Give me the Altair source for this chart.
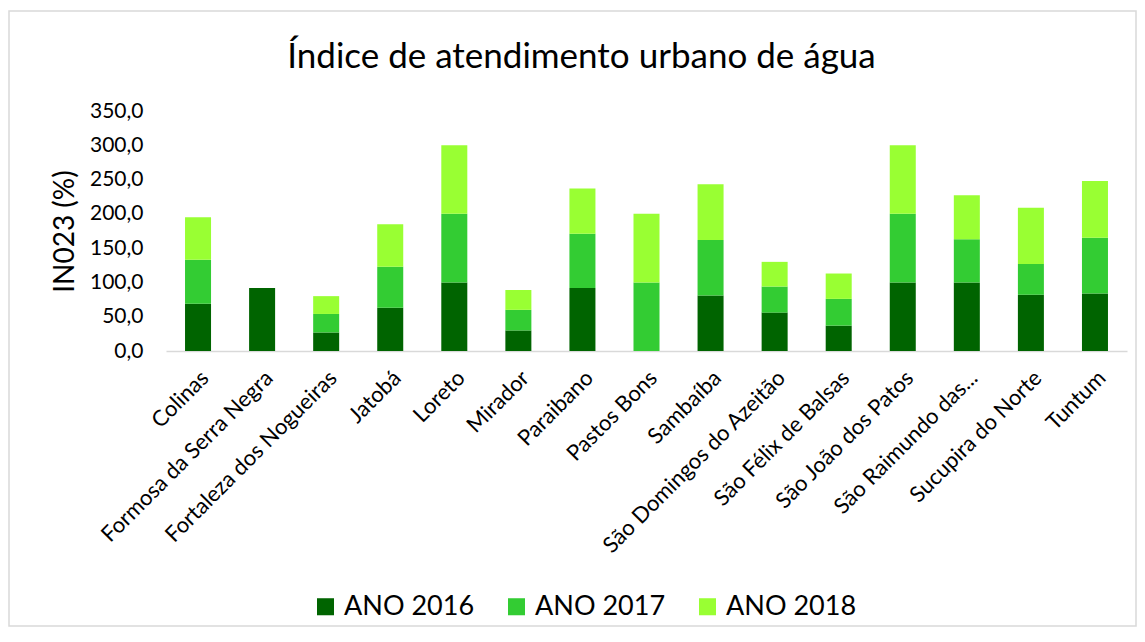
import altair as alt
import pandas as pd

municipios = ["Colinas", "Formosa da Serra Negra", "Fortaleza dos Nogueiras", "Jatobá",
              "Loreto", "Mirador", "Paraibano", "Pastos Bons", "Sambaíba",
              "São Domingos do Azeitão", "São Félix de Balsas", "São João dos Patos",
              "São Raimundo das...", "Sucupira do Norte", "Tuntum"]
ano_2016 = [69, 92, 27, 63, 100, 30, 92, 0, 81, 56, 37, 100, 100, 82, 84]
ano_2017 = [64, 0, 27, 60, 100, 30, 79, 100, 81, 38, 39, 100, 63, 45, 81]
ano_2018 = [62, 0, 26, 62, 100, 29, 66, 100, 81, 36, 37, 100, 64, 82, 83]
series = ["ANO 2016", "ANO 2017", "ANO 2018"]
colors = ["#006400", "#33cc33", "#99ff33"]
titulo = "Índice de atendimento urbano de água"

rows = []
for i, m in enumerate(municipios):
    for k, (s, vals) in enumerate(zip(series, [ano_2016, ano_2017, ano_2018])):
        rows.append({"municipio": m, "serie": s, "ordem": k, "valor": vals[i]})
df = pd.DataFrame(rows)

FONT = "Lato"
W, H = 961, 240
LEFT, TOP = 158, 103

bars = alt.Chart(df).mark_bar().encode(
    x=alt.X("municipio:N", sort=municipios, title=None,
            scale=alt.Scale(paddingInner=0.594, paddingOuter=0.297),
            axis=alt.Axis(labelAngle=-45, labelFontSize=22, labelColor="#000000",
                          labelFont=FONT, ticks=False, domainColor="#d9d9d9",
                          domainWidth=1.5, labelPadding=16, labelLimit=400)),
    y=alt.Y("valor:Q", stack="zero", title="IN023 (%)",
            scale=alt.Scale(domain=[0, 350]),
            axis=alt.Axis(values=[0, 50, 100, 150, 200, 250, 300, 350],
                          labelExpr="replace(format(datum.value, '.1f'), '.', ',')",
                          labelFontSize=21, labelFont=FONT, labelColor="#000000",
                          titleFontSize=28, titleFont=FONT, titleFontWeight="normal",
                          titleColor="#000000", titlePadding=10,
                          grid=False, domain=False, ticks=False, labelPadding=23)),
    color=alt.Color("serie:N", scale=alt.Scale(domain=series, range=colors),
                    legend=alt.Legend(title=None, orient="none", direction="horizontal",
                                      legendX=146, legendY=482, symbolType="square",
                                      symbolSize=290, symbolStrokeWidth=0,
                                      labelFontSize=27, labelFont=FONT, labelOffset=5,
                                      labelColor="#000000", columnPadding=28,
                                      symbolOpacity=1)),
    order=alt.Order("ordem:Q"),
)

frame = alt.Chart(pd.DataFrame({"a": [0]})).mark_rect(
    fill=None, stroke="#d9d9d9", strokeWidth=1.5
).encode(x=alt.value(-LEFT + 1), x2=alt.value(W + 9), y=alt.value(-100), y2=alt.value(H + 275))

title = alt.Chart(pd.DataFrame({"t": [titulo]})).mark_text(
    fontSize=35, font=FONT, color="#000000", baseline="alphabetic", align="center"
).encode(text="t:N", x=alt.value(581.5 - 8 - LEFT), y=alt.value(68 - 8 - TOP))

chart = alt.layer(frame, bars, title).properties(
    width=W, height=H,
    autosize=alt.AutoSizeParams(type="none"),
    padding={"left": LEFT, "top": TOP, "right": 10, "bottom": 280},
).configure_view(stroke=None)

chart.save("out.html", embed_options={"renderer": "svg", "actions": False})
